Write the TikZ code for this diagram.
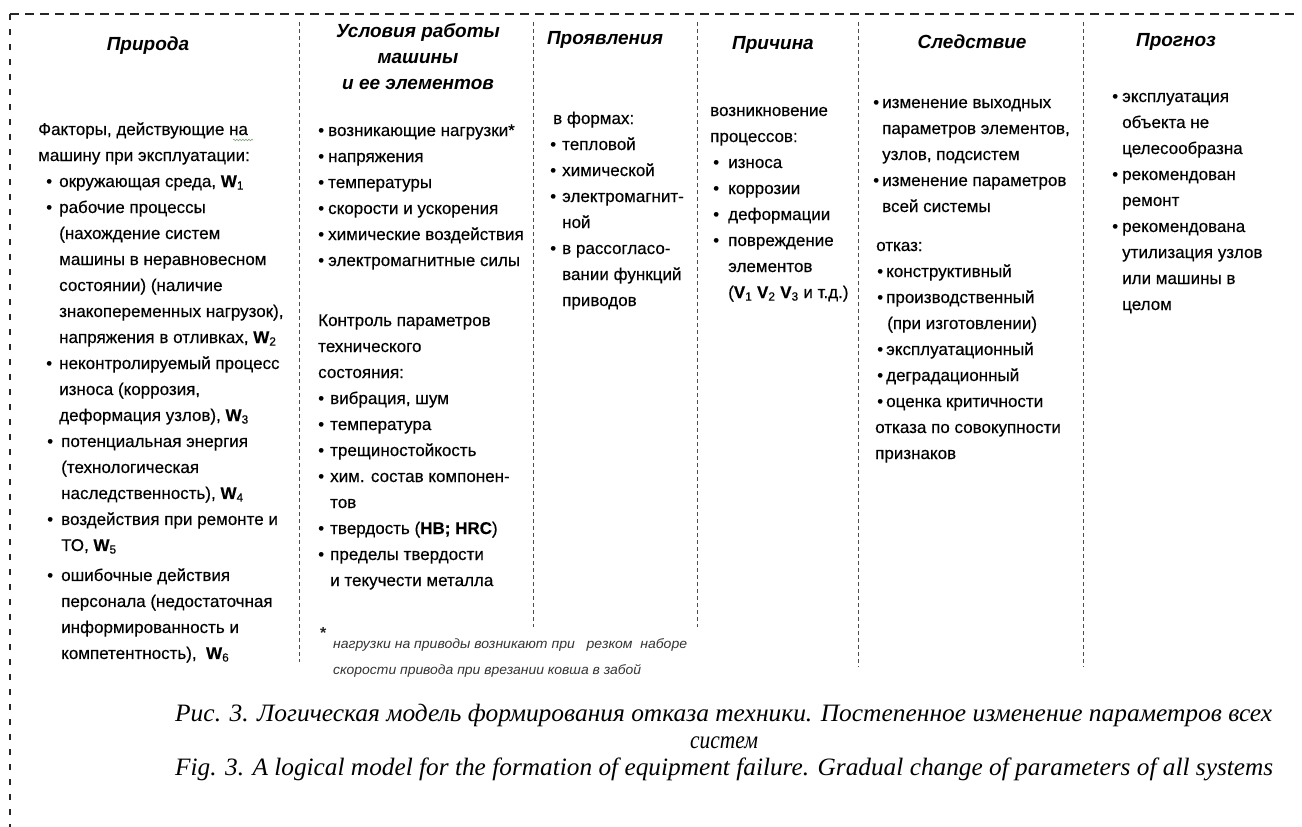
\documentclass[tikz,border=0pt]{standalone}
\usepackage{fontspec}
\usepackage{graphicx}
\setmainfont{Liberation Sans}
\newfontfamily\bodyfont[FakeBold=0.3]{Liberation Sans}
\newfontfamily\capfont{Liberation Serif}
\usetikzlibrary{decorations.pathmorphing}

\newlength\fitlen
\newcommand\fitx[2]{\settowidth\fitlen{#2}\pgfmathsetmacro\fitr{#1/\fitlen}\scalebox{\fitr}[1]{#2}}
\newcommand\bu[2]{\hspace*{#1}\makebox[#2][l]{\textbullet}}
\newcommand\ind[1]{\hspace*{#1}}
\newcommand\Wi[1]{\textbf{W}\textsubscript{#1}}
\newcommand\Vi[1]{\textbf{V}\textsubscript{#1}}
\newenvironment{tl}{\begin{tabular}[t]{@{}l@{}}}{\end{tabular}}
\newenvironment{tc}{\begin{tabular}[t]{@{}c@{}}}{\end{tabular}}

\begin{document}
\begin{tikzpicture}[x=1pt,y=-1pt,
  body/.style={anchor=base west, inner sep=0pt, text=black,
    font=\bodyfont\fontsize{17}{26}\selectfont},
  head/.style={anchor=base, inner sep=0pt, text=black,
    font=\fontsize{19}{26}\selectfont\bfseries\itshape},
  colsep/.style={draw=black!70, line width=0.7pt, dash pattern=on 4pt off 3pt},
  frameh/.style={draw=black!85, line width=1.8pt, dash pattern=on 9pt off 6pt},
  framev/.style={draw=black!85, line width=1.8pt, dash pattern=on 6pt off 9pt},
  note/.style={anchor=base west, inner sep=0pt, text=black!80,
    font=\fontsize{13.5}{26}\selectfont\itshape},
  caption/.style={anchor=base west, inner sep=0pt, text=black,
    font=\capfont\fontsize{25}{30}\selectfont\itshape}]

\useasboundingbox (0,0) rectangle (1302,827);
\fill[white] (0,0) rectangle (1302,827);

% outer frame (top and left only)
\coordinate (fTL) at (10,14);
\coordinate (fTR) at (1298,14);
\coordinate (fBL) at (10,827);
\draw[frameh] (fTL) -- (fTR);
\draw[framev] (fTL) -- (fBL);

% column separators
\draw[colsep] (299,22) -- (299,662);
\draw[colsep] (533,22) -- (533,627);
\draw[colsep] (697,22) -- (697,627);
\draw[colsep] (858,22) -- (858,667);
\draw[colsep] (1083,22) -- (1083,667);

% headings
\node[head] (h1) at (148,50) {Природа};
\node[head] (h2) at (418,37) {\begin{tc}Условия работы\\машины\\и ее элементов\end{tc}};
\node[head] (h3) at (605,45) {Проявления};
\node[head] (h4) at (773,49) {Причина};
\node[head] (h5) at (972,48) {Следствие};
\node[head] (h6) at (1176,46) {Прогноз};

% column 1
\node[body] (c1) at (38,135) {\begin{tl}
Факторы, действующие на\\
машину при эксплуатации:\\
\bu{8pt}{13pt}окружающая среда, \Wi1\\
\bu{8pt}{13pt}рабочие процессы\\
\ind{21pt}(нахождение систем\\
\ind{21pt}машины в неравновесном\\
\ind{21pt}состоянии) (наличие\\
\ind{21pt}знакопеременных нагрузок),\\
\ind{21pt}напряжения в отливках, \Wi2\\
\bu{8pt}{13pt}неконтролируемый процесс\\
\ind{21pt}износа (коррозия,\\
\ind{21pt}деформация узлов), \Wi3\\
\bu{9pt}{14pt}потенциальная энергия\\
\ind{23pt}(технологическая\\
\ind{23pt}наследственность), \Wi4\\
\bu{9pt}{14pt}воздействия при ремонте и\\
\ind{23pt}ТО, \Wi5\\[4pt]
\bu{9pt}{14pt}ошибочные действия\\
\ind{23pt}персонала (недостаточная\\
\ind{23pt}информированность и\\
\ind{23pt}компетентность),\ \ \Wi6
\end{tl}};
\draw[draw={rgb,255:red,130;green,165;blue,130}, line width=0.6pt,
  decorate, decoration={snake, segment length=3pt, amplitude=0.8pt}]
  (233,140) -- (253,140);

% column 2
\node[body] (c2) at (318,136) {\begin{tl}
\bu{0pt}{10pt}возникающие нагрузки*\\
\bu{0pt}{10pt}напряжения\\
\bu{0pt}{10pt}температуры\\
\bu{0pt}{10pt}скорости и ускорения\\
\bu{0pt}{10pt}химические воздействия\\
\bu{0pt}{10pt}электромагнитные силы\\[34pt]
Контроль параметров\\
технического\\
состояния:\\
\bu{0pt}{12pt}вибрация, шум\\
\bu{0pt}{12pt}температура\\
\bu{0pt}{12pt}трещиностойкость\\
\bu{0pt}{12pt}хим. состав компонен-\\
\ind{12pt}тов\\
\bu{0pt}{12pt}твердость (\textbf{HB; HRC})\\
\bu{0pt}{12pt}пределы твердости\\
\ind{12pt}и текучести металла
\end{tl}};

% column 3
\node[body] (c3) at (549,124) {\begin{tl}
\ind{4pt}в формах:\\
\bu{1pt}{12pt}тепловой\\
\bu{1pt}{12pt}химической\\
\bu{1pt}{12pt}электромагнит-\\
\ind{13pt}ной\\
\bu{1pt}{12pt}в рассогласо-\\
\ind{13pt}вании функций\\
\ind{13pt}приводов
\end{tl}};

% column 4
\node[body] (c4) at (710,116) {\begin{tl}
возникновение\\
процессов:\\
\bu{3pt}{15pt}износа\\
\bu{3pt}{15pt}коррозии\\
\bu{3pt}{15pt}деформации\\
\bu{3pt}{15pt}повреждение\\
\ind{18pt}элементов\\
\ind{18pt}(\Vi1 \Vi2 \Vi3 и т.д.)
\end{tl}};

% column 5
\node[body] (c5) at (870,108) {\begin{tl}
\bu{3pt}{9pt}изменение выходных\\
\ind{12pt}параметров элементов,\\
\ind{12pt}узлов, подсистем\\
\bu{3pt}{9pt}изменение параметров\\
\ind{12pt}всей системы\\[13pt]
\ind{6pt}отказ:\\
\bu{7pt}{9pt}конструктивный\\
\bu{7pt}{9pt}производственный\\
\ind{17pt}(при изготовлении)\\
\bu{7pt}{9pt}эксплуатационный\\
\bu{7pt}{9pt}деградационный\\
\bu{7pt}{9pt}оценка критичности\\
\ind{5pt}отказа по совокупности\\
\ind{5pt}признаков
\end{tl}};

% column 6
\node[body] (c6) at (1110,102) {\begin{tl}
\bu{2pt}{10pt}эксплуатация\\
\ind{12pt}объекта не\\
\ind{12pt}целесообразна\\
\bu{2pt}{10pt}рекомендован\\
\ind{12pt}ремонт\\
\bu{2pt}{10pt}рекомендована\\
\ind{12pt}утилизация узлов\\
\ind{12pt}или машины в\\
\ind{12pt}целом
\end{tl}};

% footnote
\node[anchor=base west, inner sep=0pt, text=black!85, font=\fontsize{16}{16}\selectfont\bfseries] (star) at (320,638) {*};
\node[note] (fn) at (333,648) {\begin{tl}
\fitx{354pt}{нагрузки на приводы возникают при \ \ резком \ наборе}\\
\fitx{308pt}{скорости привода при врезании ковша в забой}
\end{tl}};

% caption
\node[caption] (cap1) at (175,721) {\fitx{1097pt}{Рис. 3. Логическая модель формирования отказа техники. Постепенное изменение параметров всех}};
\node[caption, anchor=base] (cap2) at (724,748) {\fitx{68pt}{систем}};
\node[caption] (cap3) at (175,775) {\fitx{1098pt}{Fig. 3. A logical model for the formation of equipment failure. Gradual change of parameters of all systems}};

\end{tikzpicture}
\end{document}
